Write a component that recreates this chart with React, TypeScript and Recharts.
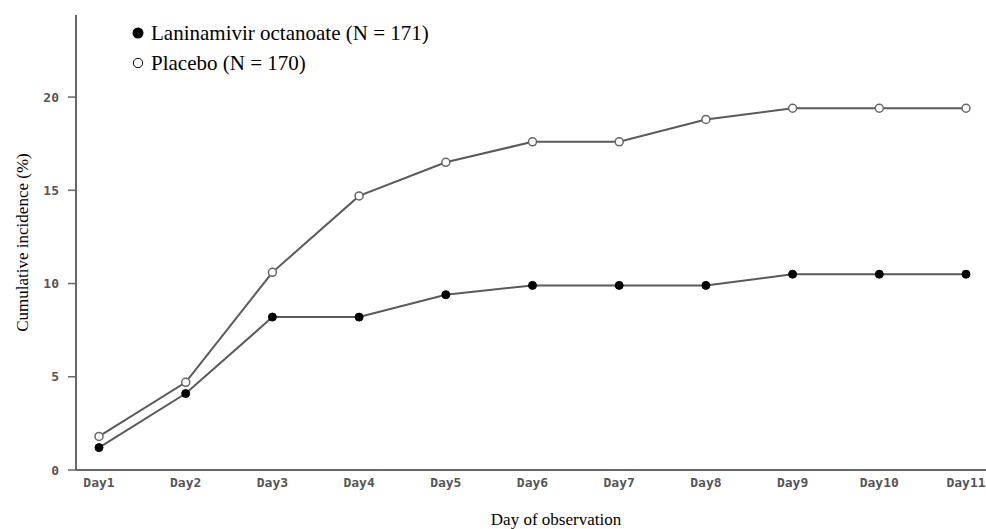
import React from 'react';
import { LineChart, Line, XAxis, YAxis, Legend, Label } from 'recharts';

const days = ['Day1', 'Day2', 'Day3', 'Day4', 'Day5', 'Day6', 'Day7', 'Day8', 'Day9', 'Day10', 'Day11'];
const laninamivir = [1.2, 4.1, 8.2, 8.2, 9.4, 9.9, 9.9, 9.9, 10.5, 10.5, 10.5];
const placebo = [1.8, 4.7, 10.6, 14.7, 16.5, 17.6, 17.6, 18.8, 19.4, 19.4, 19.4];
const yTicks = [0, 5, 10, 15, 20];
const seriesNames = ['Laninamivir octanoate (N = 171)', 'Placebo (N = 170)'];
const xTitle = 'Day of observation';
const yTitle = 'Cumulative incidence (%)';

const data = days.map((d, i) => ({ day: d, lan: laninamivir[i], pla: placebo[i] }));

const tickStyle = { fontFamily: '"DejaVu Sans Mono", monospace', fontWeight: 700, fontSize: 13, fill: '#555' };
const serif = '"Liberation Serif", "Times New Roman", serif';

const LegendBox = () => (
  <div style={{ fontFamily: serif, fontSize: 21, color: '#000', lineHeight: '30px' }}>
    <div style={{ display: 'flex', alignItems: 'center' }}>
      <svg width={14} height={14} style={{ marginRight: 6 }}>
        <circle cx={7} cy={7} r={5.5} fill="#000" />
      </svg>
      <span>{seriesNames[0]}</span>
    </div>
    <div style={{ display: 'flex', alignItems: 'center' }}>
      <svg width={14} height={14} style={{ marginRight: 6 }}>
        <circle cx={7} cy={7} r={4.7} fill="#fff" stroke="#000" strokeWidth={1} />
      </svg>
      <span>{seriesNames[1]}</span>
    </div>
  </div>
);

const XTitle = (props: any) => {
  const vb = props.viewBox || {};
  return (
    <text x={vb.x + vb.width / 2 + 25} y={525} textAnchor="middle" fontFamily={serif} fontSize={17} fill="#000">
      {xTitle}
    </text>
  );
};

const YTitle = (props: any) => {
  const vb = props.viewBox || {};
  const cx = 22;
  const cy = vb.y + vb.height / 2;
  return (
    <text x={cx} y={cy} transform={`rotate(-90, ${cx}, ${cy})`} textAnchor="middle" dominantBaseline="central" fontFamily={serif} fontSize={17} fill="#000">
      {yTitle}
    </text>
  );
};

export default function App() {
  return (
    <div style={{ position: 'absolute', left: 0, top: 0, background: '#fff' }}>
      <LineChart width={986} height={529} data={data} margin={{ top: 15, right: 0, bottom: 0, left: 0 }}>
        <XAxis
          dataKey="day"
          height={59}
          padding={{ left: 23, right: 20 }}
          tickLine={false}
          tickSize={0}
          tickMargin={8}
          tick={tickStyle}
          axisLine={{ stroke: '#666', strokeWidth: 2 }}
          interval={0}
        >
          <Label content={<XTitle />} />
        </XAxis>
        <YAxis
          width={76}
          domain={[0, 24.4]}
          ticks={yTicks}
          tickSize={8}
          tickMargin={9}
          tick={tickStyle}
          tickLine={{ stroke: '#666', strokeWidth: 1.5 }}
          axisLine={{ stroke: '#666', strokeWidth: 2 }}
        >
          <Label content={<YTitle />} />
        </YAxis>
        <Legend
          layout="vertical"
          align="center"
          verticalAlign="middle"
          content={<LegendBox />}
          wrapperStyle={{ position: 'absolute', left: 131, top: 18, width: 'auto', height: 'auto' }}
        />
        <Line
          type="linear"
          dataKey="pla"
          name={seriesNames[1]}
          stroke="#5a5a5a"
          strokeWidth={2}
          dot={{ r: 4, fill: '#fff', stroke: '#666', strokeWidth: 1.5 }}
          activeDot={false}
          isAnimationActive={false}
        />
        <Line
          type="linear"
          dataKey="lan"
          name={seriesNames[0]}
          stroke="#5a5a5a"
          strokeWidth={2}
          dot={{ r: 4, fill: '#000', stroke: '#000', strokeWidth: 1 }}
          activeDot={false}
          isAnimationActive={false}
        />
      </LineChart>
    </div>
  );
}
